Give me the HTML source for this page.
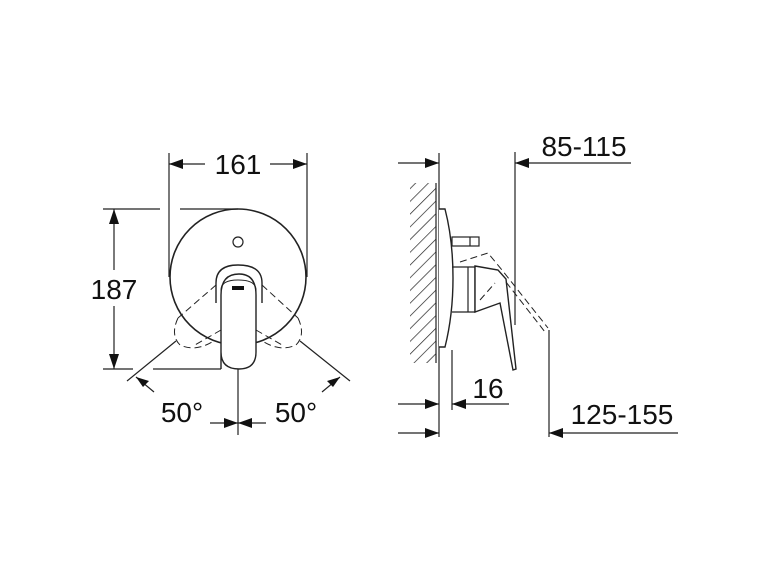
<!DOCTYPE html>
<html><head><meta charset="utf-8"><style>
html,body{margin:0;padding:0;background:#fff;}
svg{display:block}
text{font-family:"Liberation Sans",sans-serif;font-size:28px;fill:#111}
</style></head><body>
<svg width="770" height="578" viewBox="0 0 770 578" xmlns="http://www.w3.org/2000/svg">
<defs>
<pattern id="h" width="9" height="9" patternUnits="userSpaceOnUse" patternTransform="rotate(45)">
<line x1="0" y1="0" x2="0" y2="9" stroke="#222" stroke-width="1.4"/>
</pattern>
</defs>
<g fill="none" stroke="#222" stroke-width="1.2">
<line x1="169" y1="153" x2="169" y2="277"/>
<line x1="307" y1="153" x2="307" y2="277"/>
<line x1="169" y1="164" x2="205" y2="164"/>
<line x1="270" y1="164" x2="307" y2="164"/>
<line x1="103" y1="209" x2="160" y2="209"/>
<line x1="180" y1="209" x2="238" y2="209"/>
<line x1="103" y1="369" x2="133" y2="369"/>
<line x1="153" y1="369" x2="221" y2="369"/>
<line x1="114" y1="209" x2="114" y2="270"/>
<line x1="114" y1="306" x2="114" y2="369"/>
<circle cx="238" cy="277" r="68" stroke-width="1.6"/>
<circle cx="238" cy="242" r="5"/>
<path d="M216 303 L216 283 Q216 265 238 265 Q262 265 262 283 L262 303" fill="#fff" stroke-width="1.4"/>
<path d="M221 369 L221 295 Q221 274 239 274 Q256 274 256 295 L256 352 Q256 369 239 369 Q221 369 221 352" fill="#fff" stroke-width="1.4"/>
<path d="M221 300 L221 290 Q221 280 238 280 Q256 280 256 290 L256 300" stroke-width="1"/>
<g stroke-dasharray="7,4" stroke-width="1">
<line x1="216" y1="285" x2="178" y2="318"/>
<line x1="221" y1="330" x2="195" y2="345"/>
<path d="M178 318 Q170 335 180 345 Q195 352 212 342"/>
<line x1="262" y1="285" x2="298" y2="318"/>
<line x1="256" y1="330" x2="282" y2="345"/>
<path d="M298 318 Q306 335 296 345 Q281 352 264 342"/>
</g>
<line x1="176" y1="341" x2="127" y2="381"/>
<line x1="300" y1="341" x2="350" y2="381"/>
<line x1="136" y1="377" x2="154" y2="392"/>
<line x1="340" y1="377" x2="322" y2="392"/>
<line x1="238" y1="369" x2="238" y2="435"/>
<line x1="210" y1="423" x2="238" y2="423"/>
<line x1="238" y1="423" x2="266" y2="423"/>
<rect x="410" y="183" width="26" height="180" fill="url(#h)" stroke="none"/>
<line x1="436" y1="183" x2="436" y2="363"/>
<line x1="439" y1="153" x2="439" y2="437"/>
<line x1="398" y1="163" x2="439" y2="163"/>
<line x1="398" y1="404" x2="439" y2="404"/>
<line x1="398" y1="433" x2="439" y2="433"/>
<path d="M439 209 L445 209 Q453 240 453 278 Q453 315 445 347 L439 347" fill="#fff" stroke-width="1.4"/>
<rect x="452" y="237" width="27" height="9" fill="#fff"/>
<line x1="470" y1="237" x2="470" y2="246"/>
<path d="M452 267 L475 267 L475 312 L452 312" stroke-width="1.3"/>
<line x1="468" y1="267" x2="468" y2="312"/>
<path d="M475 266 L498 270 L506 279 L516 369 L513 370 L500 303 L475 312 Z" fill="#fff" stroke-width="1.4"/>
<g stroke-dasharray="7,4" stroke-width="1">
<path d="M460 262 L488 253 L502 270 L548 328"/>
<path d="M506 282 L545 332"/>
<path d="M480 300 L495 283"/>
</g>
<line x1="515" y1="152" x2="515" y2="325"/>
<line x1="515" y1="163" x2="631" y2="163"/>
<line x1="452" y1="350" x2="452" y2="410"/>
<line x1="452" y1="404" x2="509" y2="404"/>
<line x1="549" y1="330" x2="549" y2="437"/>
<line x1="549" y1="433" x2="678" y2="433"/>
</g>
<g fill="#111">
<polygon points="169,164 183,159 183,169"/>
<polygon points="307,164 293,159 293,169"/>
<polygon points="114,209 109,224 119,224"/>
<polygon points="114,369 109,354 119,354"/>
<polygon points="136,377 149,381 143,387"/>
<polygon points="340,377 327,381 333,387"/>
<polygon points="238,423 224,418 224,428"/>
<polygon points="238,423 252,418 252,428"/>
<polygon points="439,163 425,158 425,168"/>
<polygon points="439,404 425,399 425,409"/>
<polygon points="439,433 425,428 425,438"/>
<polygon points="452,404 466,399 466,409"/>
<polygon points="515,163 529,158 529,168"/>
<polygon points="549,433 563,428 563,438"/>
<rect x="232" y="286" width="12" height="4"/>
</g>
<text x="238" y="174" text-anchor="middle">161</text>
<text x="114" y="299" text-anchor="middle">187</text>
<text x="182" y="422" text-anchor="middle">50°</text>
<text x="296" y="422" text-anchor="middle">50°</text>
<text x="584" y="156" text-anchor="middle">85-115</text>
<text x="488" y="398" text-anchor="middle">16</text>
<text x="622" y="424" text-anchor="middle">125-155</text>
</svg>
</body></html>
